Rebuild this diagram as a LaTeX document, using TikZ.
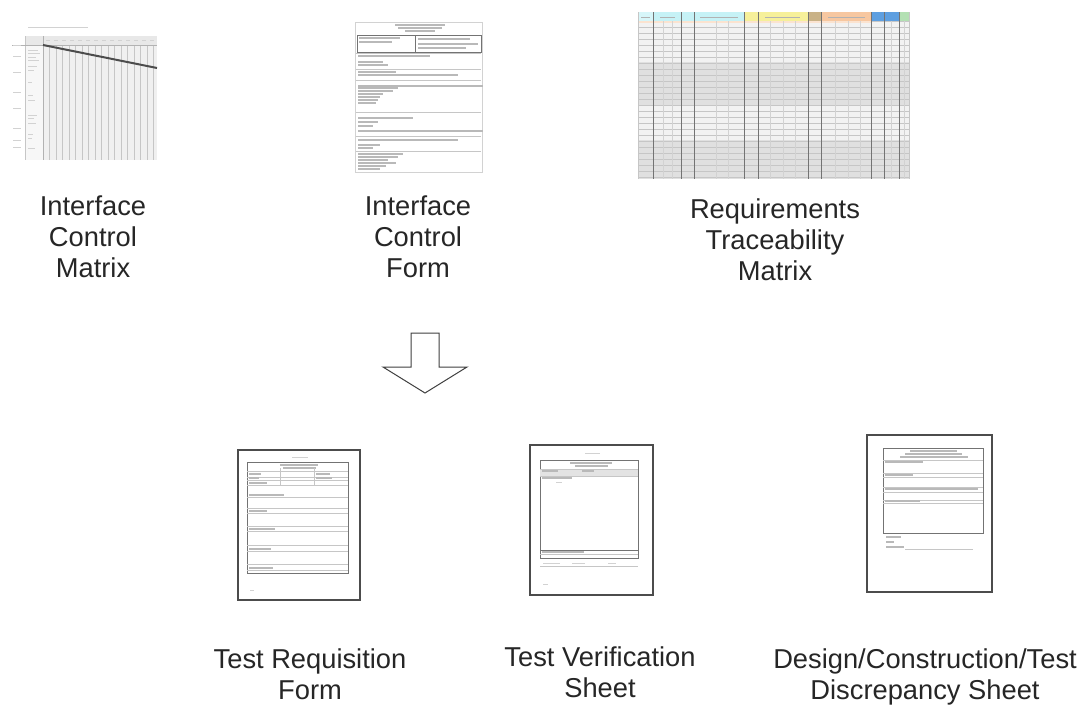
\documentclass[tikz,border=0pt]{standalone}
\usepackage{fontspec}
\setmainfont{Liberation Sans}
\definecolor{rtmcyan}{HTML}{C6F2F6}
\definecolor{rtmyel}{HTML}{F6F09A}
\definecolor{rtmtan}{HTML}{C9B287}
\definecolor{rtmorg}{HTML}{F7C7A0}
\definecolor{rtmblu}{HTML}{5E9FE0}
\definecolor{rtmgrn}{HTML}{B3E0B3}
\begin{document}
\begin{tikzpicture}[x=1pt,y=-1pt,
  lbl/.style={font=\fontsize{27.3}{31}\selectfont, align=center, text=black!85, inner sep=0pt, anchor=base},
  txt/.style={gray!55, line width=1.1pt},
  faint/.style={gray!35, line width=0.9pt},
  hair/.style={gray!45, line width=0.4pt},
  rule/.style={black!55, line width=0.7pt},
  frame/.style={draw=black!70, line width=1.8pt, fill=white},
]
\useasboundingbox (0,0) rectangle (1092,704);
\fill[white] (0,0) rectangle (1092,704);

% ---------- Interface Control Matrix thumbnail ----------
\draw[faint] (28,27) -- (88,27);
\fill[gray!18] (25,36) rectangle (157,45);
\foreach \x in {50,58,...,157} \draw[faint] (\x-4,40) -- (\x,40);
\fill[gray!12] (43,45) rectangle (157,160);
\fill[gray!6] (25,45) rectangle (43,160);
\foreach \x in {49.5,56,...,157} \draw[hair] (\x,45) -- (\x,160);
\draw[hair] (25,36) -- (25,160);
\draw[gray!60, line width=0.6pt] (43,36) -- (43,160);
\draw[gray!60, line width=0.6pt] (12,45) -- (157,45);
\foreach \y in {45,56,72,92,108,128,140,147} \draw[faint] (13,\y) -- (21,\y);
\foreach \y/\l in {50/10,53/12,57/8,60/11,66/9,70/6,82/4,95/5,100/7,115/9,118/6,123/8,134/5,138/4,148/7}
  \draw[faint] (28,\y) -- ++(\l,0);
\draw[black!70, line width=2pt] (43,45) -- (157,68);

% ---------- Interface Control Form thumbnail ----------
\draw[gray!35, line width=0.5pt] (355,22) rectangle (482,172);
\draw[txt] (395,25) -- (445,25);
\draw[txt] (398,28) -- (442,28);
\draw[txt] (405,31) -- (435,31);
\draw[rule] (357,35) rectangle (481,52);
\draw[rule] (415,35) -- (415,52);
\draw[txt] (359,38) -- (400,38);
\draw[txt] (359,42) -- (392,42);
\draw[txt] (418,39) -- (470,39);
\draw[txt] (418,44) -- (478,44);
\draw[txt] (418,48) -- (466,48);
\draw[txt] (358,56) -- (430,56);
\draw[hair] (356,53) -- (481,53);
\foreach \y/\l in {62/25,65/30,72/38,75/100,86/125,88/40,91/35,94/25,97/22,100/20,103/18,118/55,122/20,126/15,131/125,140/100,145/22,148/15,154/45,157/40,160/30,163/38,166/28,169/22}
  \draw[txt] (358,\y) -- ++(\l,0);
\foreach \y in {69,80,112,136,151} \draw[hair] (356,\y) -- (481,\y);

% ---------- Requirements Traceability Matrix thumbnail ----------
\fill[gray!10] (638,21) rectangle (909,62);
\fill[gray!24] (638,62) rectangle (909,105);
\fill[gray!10] (638,105) rectangle (909,140);
\fill[gray!24] (638,140) rectangle (909,179);
\foreach \y in {21,27,...,179} \draw[hair] (638,\y) -- (909,\y);
\fill[rtmcyan!70] (638,12) rectangle (653,21);
\fill[rtmcyan] (653,12) rectangle (744,21);
\fill[rtmyel] (744,12) rectangle (808,21);
\fill[rtmtan] (808,12) rectangle (821,21);
\fill[rtmorg] (821,12) rectangle (871,21);
\fill[rtmblu] (871,12) rectangle (899,21);
\fill[rtmgrn] (899,12) rectangle (909,21);
\fill[rtmorg!50] (638,21) rectangle (871,23);
\foreach \a/\b in {641/650,660/675,700/738,765/800,828/865}
  \draw[gray!60, line width=0.8pt] (\a,17) -- (\b,17);
\foreach \x in {653,681,694,744,758,808,821,871,884,899}
  \draw[black!55, line width=1pt] (\x,12) -- (\x,179);
\foreach \x in {638,909} \draw[hair] (\x,12) -- (\x,179);
\foreach \x in {663,672,716,728,770,783,795,835,848,860,891,904}
  \draw[gray!35, line width=0.3pt] (\x,21) -- (\x,179);

% ---------- block arrow ----------
\draw[black!75, line width=1pt, fill=white, line join=miter]
  (411,333) -- (439,333) -- (439,367) -- (467,367) -- (425,393)
  -- (383,367) -- (411,367) -- cycle;

% ---------- Test Requisition Form thumbnail ----------
\draw[frame] (238,450) rectangle (360,600);
\draw[faint] (292,457) -- (308,457);
\draw[rule] (247,462) rectangle (348,573);
\draw[txt] (280,465) -- (318,465);
\draw[txt] (283,468) -- (316,468);
\foreach \y in {471,477,480,485} \draw[hair] (247,\y) -- (348,\y);
\draw[hair] (280,468) -- (280,485);
\draw[hair] (314,468) -- (314,485);
\foreach \y/\l in {474/12,478/10,483/18} \draw[txt] (249,\y) -- ++(\l,0);
\draw[txt] (316,474) -- ++(14,0);
\draw[txt] (316,478) -- ++(16,0);
\foreach \y/\l in {495/35,511/18,529/26,549/22,568/24}
  {\draw[txt] (249,\y) -- ++(\l,0); \draw[hair] (247,\y+2) -- (348,\y+2);}
\foreach \y in {508,526,545,564} \draw[hair] (247,\y) -- (348,\y);
\draw[faint] (250,590) -- (254,590);

% ---------- Test Verification Sheet thumbnail ----------
\draw[frame] (530,445) rectangle (653,595);
\draw[faint] (585,453) -- (600,453);
\draw[rule] (540,460) rectangle (638,558);
\draw[txt] (570,463) -- (612,463);
\draw[txt] (575,466) -- (608,466);
\fill[gray!22] (540,469) rectangle (638,476);
\draw[hair] (540,469) -- (638,469);
\draw[hair] (540,476) -- (638,476);
\draw[txt] (542,471) -- ++(16,0);
\draw[txt] (582,471) -- ++(12,0);
\draw[txt] (542,478) -- ++(30,0);
\draw[faint] (556,482) -- ++(6,0);
\draw[rule] (540,550) -- (638,550);
\draw[txt] (542,552) -- ++(42,0);
\draw[hair] (540,554) -- (638,554);
\draw[faint] (543,563) -- (560,563);
\draw[faint] (572,563) -- (585,563);
\draw[faint] (608,563) -- (616,563);
\draw[hair] (540,566) -- (638,566);
\draw[faint] (543,584) -- (548,584);

% ---------- Design/Construction/Test Discrepancy Sheet thumbnail ----------
\draw[frame] (867,435) rectangle (992,592);
\draw[rule] (883,448) rectangle (983,533);
\draw[txt] (910,451) -- (957,451);
\draw[txt] (905,454) -- (962,454);
\draw[txt] (900,457) -- (968,457);
\foreach \y in {460,473,477,487,492,500,503} \draw[hair] (883,\y) -- (983,\y);
\draw[txt] (885,462) -- ++(38,0);
\draw[txt] (885,475) -- ++(28,0);
\draw[txt] (885,489) -- ++(93,0);
\draw[txt] (885,501) -- ++(35,0);
\draw[txt] (886,537) -- ++(15,0);
\draw[txt] (886,542) -- ++(8,0);
\draw[txt] (886,547) -- ++(18,0);
\draw[hair] (905,549) -- (973,549);

% ---------- labels (anchor = baseline of last line) ----------
\node[lbl] (icm) at (93,277) {Interface\\Control\\Matrix};
\node[lbl] (icf) at (418,277) {Interface\\Control\\Form};
\node[lbl] (rtm) at (775,280) {Requirements\\Traceability\\Matrix};
\node[lbl] (trf) at (310,699) {Test Requisition\\Form};
\node[lbl] (tvs) at (600,697) {Test Verification\\Sheet};
\node[lbl] (dct) at (925,699) {Design/Construction/Test\\Discrepancy Sheet};
\end{tikzpicture}
\end{document}
